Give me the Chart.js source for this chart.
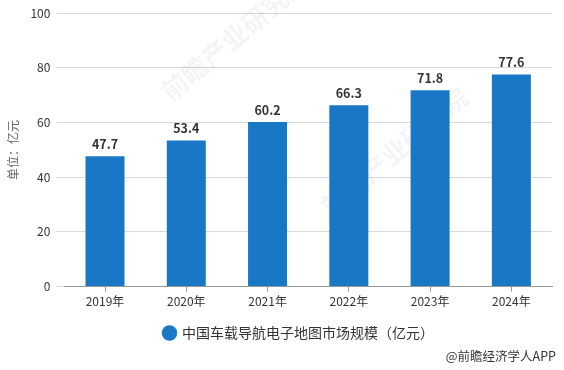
<!DOCTYPE html>
<html lang="zh">
<head>
  <meta charset="UTF-8">
  <title>中国车载导航电子地图市场规模</title>
  <script src="https://cdn.jsdelivr.net/npm/chart.js"></script>
  <style>
    html, body { margin: 0; padding: 0; background: #fff; }
    #wrap { width: 564px; height: 370px; position: relative; }
  </style>
</head>
<body>
  <div id="wrap"><canvas id="chart"></canvas></div>
  <script>
    const years = ['2019年', '2020年', '2021年', '2022年', '2023年', '2024年'];
    const marketSize = [47.7, 53.4, 60.2, 66.3, 71.8, 77.6];
    const seriesName = '中国车载导航电子地图市场规模（亿元）';
    const yTitle = '单位：亿元';
    const source = '@前瞻经济学人APP';
    const watermark = '前瞻产业研究院';

    const font = '"Microsoft YaHei", "Noto Sans CJK SC", sans-serif';

    // faint watermark behind the bars
    const backdrop = {
      id: 'backdrop',
      afterLayout(chart) {
        // legend sits centred under the plot, not the whole canvas
        chart.legend.left += 22;
        chart.legend.right += 22;
      },
      beforeDatasetsDraw(chart) {
        const ctx = chart.ctx;
        ctx.save();
        ctx.fillStyle = 'rgba(0,0,0,0.045)';
        ctx.font = 'bold 26px ' + font;
        [[165, 95], [325, 210]].forEach(([x, y]) => {
          ctx.save();
          ctx.translate(x, y);
          ctx.rotate(-Math.PI / 4.5);
          ctx.fillText(watermark, 0, 0);
          ctx.restore();
        });
        ctx.restore();
      }
    };

    // value labels above bars + source line in the corner
    const extras = {
      id: 'extras',
      afterDatasetsDraw(chart) {
        const ctx = chart.ctx;
        const meta = chart.getDatasetMeta(0);
        ctx.save();
        ctx.font = 'bold 12.5px ' + font;
        ctx.fillStyle = '#333';
        ctx.textAlign = 'center';
        ctx.textBaseline = 'bottom';
        meta.data.forEach((bar, i) => {
          ctx.fillText(marketSize[i].toFixed(1), bar.x, bar.y - 6);
        });
        ctx.font = '12.5px ' + font;
        ctx.textAlign = 'right';
        ctx.textBaseline = 'middle';
        ctx.fillText(source, 556, 356);
        ctx.restore();
      }
    };

    new Chart(document.getElementById('chart'), {
      type: 'bar',
      data: {
        labels: years,
        datasets: [{
          label: seriesName,
          data: marketSize,
          backgroundColor: '#1878c6',
          barPercentage: 0.48,
          categoryPercentage: 1
        }]
      },
      options: {
        responsive: true,
        maintainAspectRatio: false,
        animation: false,
        layout: { padding: { top: 4, right: 12, left: 2, bottom: 20 } },
        plugins: {
          legend: {
            position: 'bottom',
            labels: {
              usePointStyle: true,
              pointStyle: 'circle',
              boxWidth: 11,
              boxHeight: 11,
              color: '#333',
              font: { size: 14, family: font },
              padding: 14
            }
          },
          tooltip: { enabled: false }
        },
        scales: {
          x: {
            grid: { display: true, drawOnChartArea: false, offset: false, tickLength: 5, color: '#999' },
            border: { color: '#999' },
            ticks: { color: '#333', font: { size: 12, family: font } }
          },
          y: {
            min: 0,
            max: 100,
            ticks: { stepSize: 20, color: '#333', font: { size: 12, family: font }, padding: 6 },
            grid: { color: '#d9d9d9', drawTicks: true, tickLength: 8 },
            border: { display: false },
            title: { display: true, text: yTitle, color: '#666', font: { size: 12, family: font } }
          }
        }
      },
      plugins: [backdrop, extras]
    });
  </script>
</body>
</html>
